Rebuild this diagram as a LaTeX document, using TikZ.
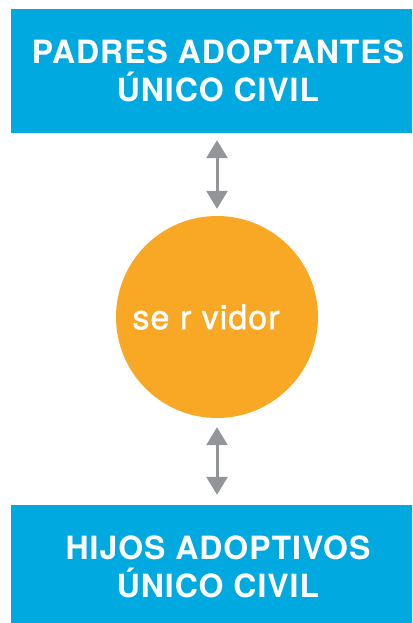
\documentclass[tikz,border=0pt]{standalone}
\usepackage{fontspec}
\setmainfont{TeX Gyre Heros}
\newfontfamily\boxfont[LetterSpace=3]{TeX Gyre Heros}
\newfontfamily\hubfont[LetterSpace=3,FakeBold=1.2]{TeX Gyre Heros}
\usepackage{xcolor}
\usepackage{tikz}
\usetikzlibrary{positioning,arrows.meta}

\definecolor{boxblue}{HTML}{00A9E0}
\definecolor{huborange}{HTML}{F9A826}
\definecolor{linkgray}{HTML}{939598}

\begin{document}
\begin{tikzpicture}[x=1pt, y=-1pt,
    box/.style={fill=boxblue, text=white, minimum width=414pt, minimum height=124pt,
                align=center, font=\boxfont\fontsize{32}{38.5}\selectfont\bfseries, inner sep=0pt},
    hub/.style={circle, fill=huborange, text=white, minimum size=202pt, inner sep=0pt,
                font=\hubfont\fontsize{34}{40}\selectfont},
    link/.style={linkgray, line width=3pt, {Triangle[width=21pt,length=18pt]}-{Triangle[width=21pt,length=18pt]}}]
  \clip (0,0) rectangle (412,623);
  \node[box] (padres) at (218,71) {PADRES ADOPTANTES\\ÚNICO CIVIL};
  \node[hub] (servidor) at (217,317) {se r vidor\hspace*{22pt}};
  \node[box] (hijos) at (218,567) {HIJOS ADOPTIVOS\\ÚNICO CIVIL};
  % arrows
  \draw[link, shorten <=7pt, shorten >=7pt] (servidor.north |- padres.south) -- (servidor.north);
  \draw[link, shorten <=9pt, shorten >=10pt] (servidor.south) -- (servidor.south |- hijos.north);
\end{tikzpicture}
\end{document}
